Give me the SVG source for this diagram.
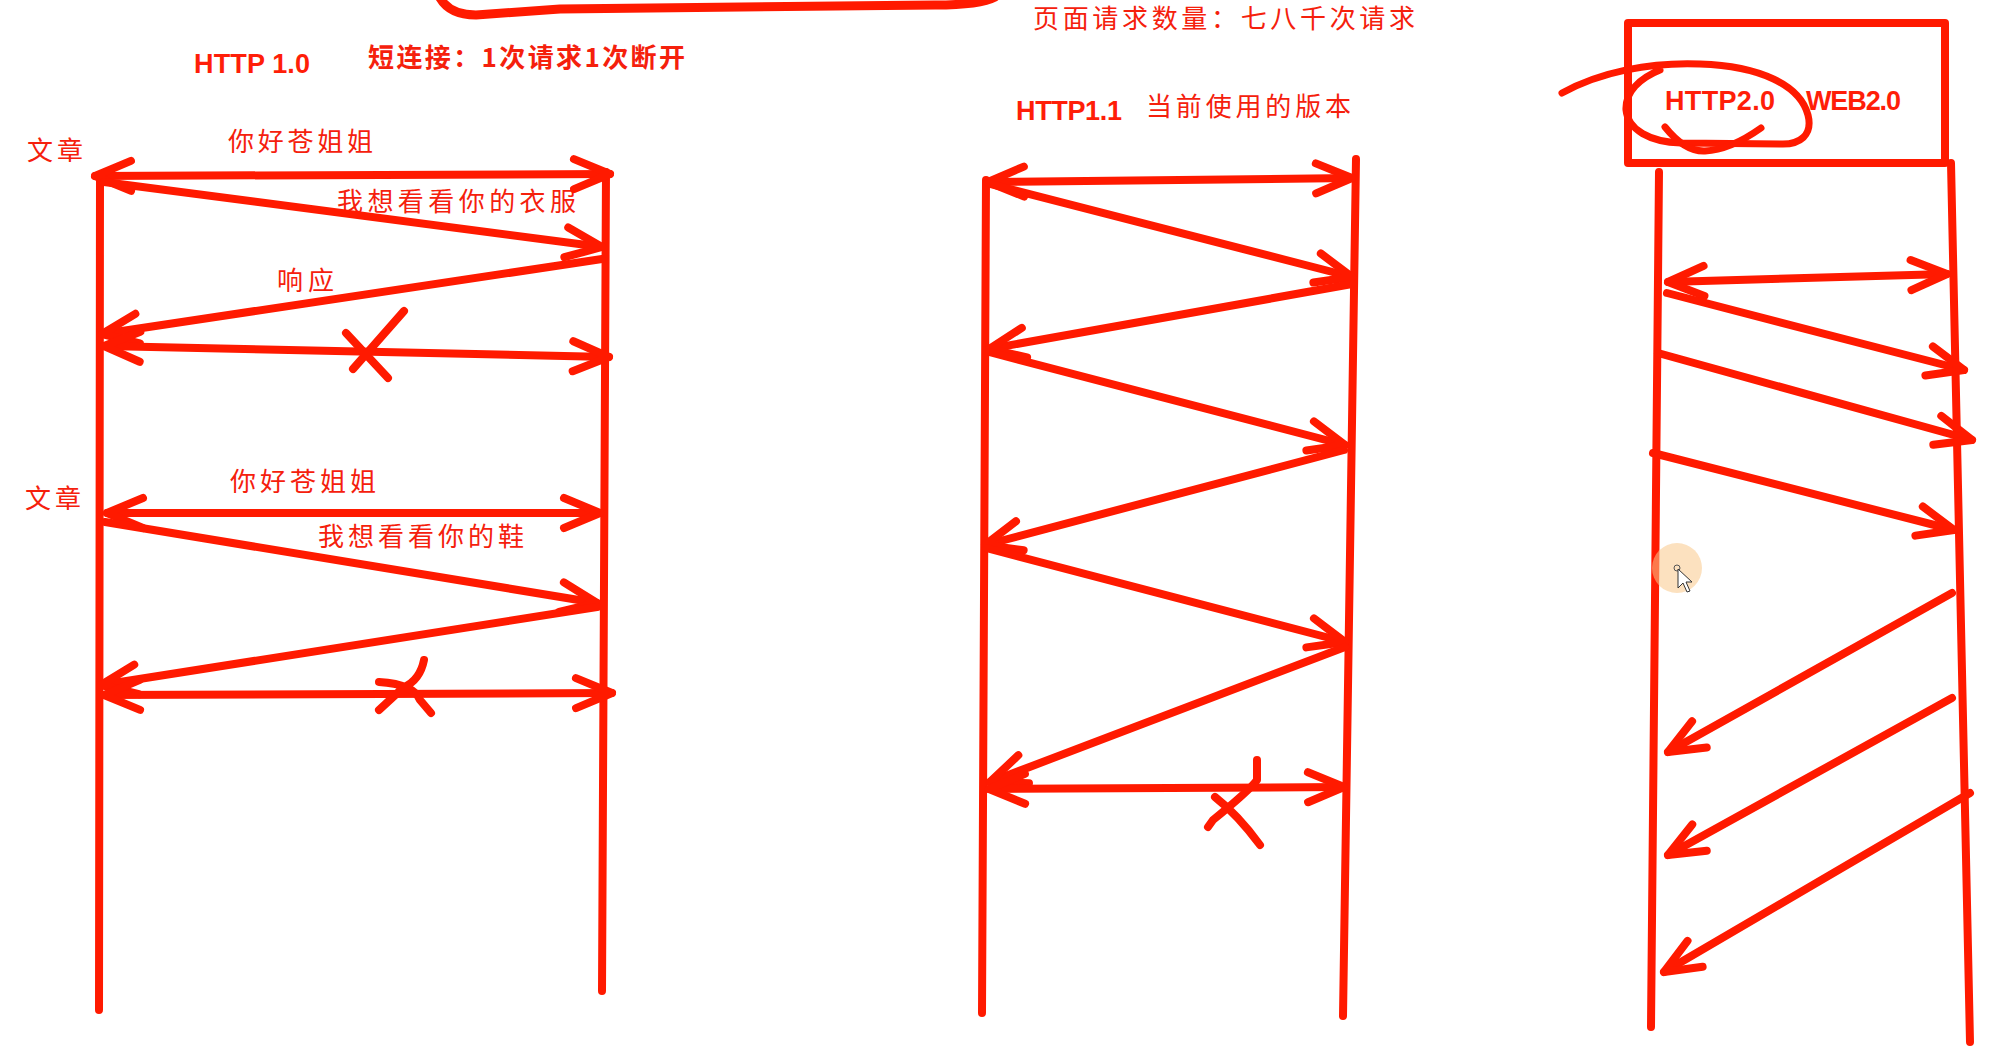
<svg xmlns="http://www.w3.org/2000/svg" width="1993" height="1048" viewBox="0 0 1993 1048">
<style>
.s{stroke:#ff1a00;stroke-width:8;stroke-linecap:round;stroke-linejoin:round;fill:none}
.a{marker-end:url(#ah)}
.d{marker-start:url(#ah);marker-end:url(#ah)}
.t{fill:#f5200c;font-family:"Noto Sans CJK SC","Noto Sans CJK JP",sans-serif;font-size:26px}
.tb{font-weight:bold}
.b{fill:#ff1e08;font-family:"Liberation Sans",Arial,sans-serif;font-weight:bold;font-size:27px}
</style>
<defs>
<marker id="ah" markerUnits="userSpaceOnUse" viewBox="-50 -25 60 50" refX="0" refY="0" markerWidth="60" markerHeight="50" orient="auto-start-reverse" overflow="visible">
<path d="M-36,-15 L0,0 L-36,15" fill="none" stroke="#ff1a00" stroke-width="8" stroke-linecap="round" stroke-linejoin="round"/>
</marker>
</defs>
<rect width="1993" height="1048" fill="#ffffff"/>

<!-- top scribble -->
<g id="top-scribble">
<path class="s" style="stroke-width:9" d="M440,-2 Q450,15 476,15 L560,9 L935,5 Q980,5 995,-3"/>
</g>

<!-- titles -->
<g id="title-http10">
<text class="b" x="194" y="73" textLength="116">HTTP 1.0</text>
<text class="t tb" x="368" y="67" textLength="317">短连接：1次请求1次断开</text>
</g>
<g id="title-top">
<text class="t" x="1033" y="28" font-size="25" textLength="382">页面请求数量：七八千次请求</text>
</g>
<g id="title-http11">
<text class="b" x="1016" y="120" textLength="106">HTTP1.1</text>
<text class="t" x="1146" y="116" textLength="205">当前使用的版本</text>
</g>
<g id="title-http20">
<rect class="s" x="1628" y="23" width="317" height="140" stroke-linecap="butt" stroke-linejoin="miter"/>
<text class="b" x="1665" y="110" textLength="110">HTTP2.0</text>
<text class="b" x="1806" y="110" textLength="95">WEB2.0</text>
<path class="s" style="stroke-width:7" d="M1562,93 C1600,72 1650,62 1700,64 C1760,66 1800,85 1808,115 C1813,135 1800,145 1780,144 L1681,143 C1650,142 1628,130 1626,110 C1625,92 1640,78 1660,70"/>
<path class="s" style="stroke-width:7" d="M1665,127 Q1685,152 1705,151 Q1730,150 1761,128"/>
</g>

<!-- lifelines (nodes) -->
<g id="http10-client"><path class="s" d="M100,177 L99,1010"/></g>
<g id="http10-server"><path class="s" d="M606,172 L602,991"/></g>
<g id="http11-client"><path class="s" d="M986,180 L982,1013"/></g>
<g id="http11-server"><path class="s" d="M1356,159 L1343,1016"/></g>
<g id="http20-client"><path class="s" d="M1659,172 L1651,1027"/></g>
<g id="http20-server"><path class="s" d="M1951,163 L1970,1042"/></g>

<!-- labels -->
<g id="http10-labels">
<text class="t" x="27" y="160" textLength="56">文章</text>
<text class="t" x="228" y="151" textLength="145">你好苍姐姐</text>
<text class="t" x="337" y="211" textLength="239">我想看看你的衣服</text>
<text class="t" x="277" y="290" textLength="57">响应</text>
<text class="t" x="25" y="508" textLength="56">文章</text>
<text class="t" x="230" y="491" textLength="146">你好苍姐姐</text>
<text class="t" x="318" y="546" textLength="206">我想看看你的鞋</text>
</g>

<!-- connectors -->
<g id="connectors">
<!-- HTTP 1.0 -->
<line class="s d" x1="95" y1="176" x2="610" y2="174"/>
<line class="s a" x1="104" y1="182" x2="602" y2="247"/>
<line class="s a" x1="602" y1="259" x2="102" y2="334"/>
<line class="s d" x1="104" y1="346" x2="609" y2="357"/>
<path class="s" d="M346,333 L388,378 M404,311 Q382,336 353,369"/>
<line class="s d" x1="107" y1="513" x2="600" y2="513"/>
<line class="s a" x1="105" y1="522" x2="597" y2="603"/>
<line class="s a" x1="597" y1="607" x2="101" y2="685"/>
<line class="s d" x1="104" y1="695" x2="612" y2="693"/>
<path class="s" d="M424,660 Q420,680 404,687 L379,710 M379,682 Q414,684 420,700 L431,713"/>
<!-- HTTP 1.1 -->
<line class="s d" x1="988" y1="182" x2="1352" y2="178"/>
<line class="s a" x1="990" y1="184" x2="1352" y2="277"/>
<line class="s a" x1="1352" y1="284" x2="989" y2="349"/>
<line class="s a" x1="989" y1="352" x2="1345" y2="445"/>
<line class="s a" x1="1344" y1="450" x2="985" y2="545"/>
<line class="s a" x1="986" y1="548" x2="1345" y2="642"/>
<line class="s a" x1="1345" y1="647" x2="990" y2="782"/>
<line class="s d" x1="989" y1="789" x2="1344" y2="787"/>
<path class="s" d="M1257,760 L1257,780 Q1250,790 1213,820 L1208,827 M1215,797 Q1238,815 1260,845"/>
<!-- HTTP 2.0 -->
<line class="s d" x1="1668" y1="282" x2="1947" y2="274"/>
<line class="s a" x1="1667" y1="293" x2="1964" y2="370"/>
<line class="s a" x1="1658" y1="353" x2="1972" y2="440"/>
<line class="s a" x1="1653" y1="453" x2="1954" y2="530"/>
<line class="s a" x1="1952" y1="593" x2="1668" y2="752"/>
<line class="s a" x1="1952" y1="698" x2="1668" y2="855"/>
<line class="s a" x1="1970" y1="793" x2="1664" y2="972"/>
</g>

<!-- mouse cursor -->
<g id="cursor">
<circle cx="1677" cy="568" r="25" fill="#f9c98a" opacity="0.55"/>
<circle cx="1677" cy="568" r="3" fill="none" stroke="#555" stroke-width="1"/>
<path d="M1678,569 L1678,588 L1683,583 L1687,592 L1690,591 L1686,582 L1692,582 Z" fill="#ffffff" stroke="#333" stroke-width="1"/>
</g>
</svg>
